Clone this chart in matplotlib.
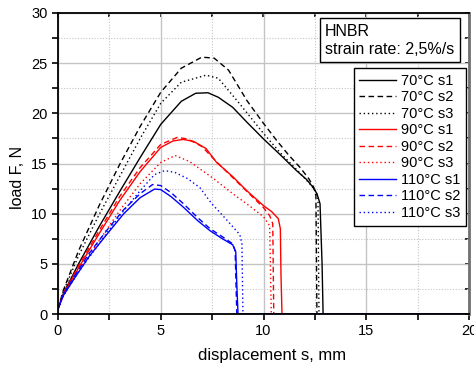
import matplotlib
matplotlib.use('Agg')
import matplotlib.pyplot as plt
from matplotlib.ticker import MultipleLocator

plt.rcParams['font.family'] = ['Liberation Sans', 'DejaVu Sans']

# --- data (displacement mm, load N) ---
x_70_s1 = [0, 0.25, 1, 2, 3, 4, 5, 6, 6.7, 7.3, 7.8, 8.5, 9.2, 10, 10.8, 11.6, 12.1, 12.4, 12.6, 12.75, 12.85, 12.9, 20]
y_70_s1 = [0.5, 2.0, 5.0, 8.7, 12.2, 15.6, 18.9, 21.2, 22.0, 22.05, 21.6, 20.6, 19.1, 17.45, 15.9, 14.3, 13.4, 12.65, 12.0, 11.0, 5.0, 0, 0]

x_70_s2 = [0, 0.25, 1, 2, 3, 4, 5, 6, 7.0, 7.6, 8.3, 9.2, 10, 10.64, 11.2, 11.78, 12.2, 12.45, 12.55, 12.6, 20]
y_70_s2 = [0.5, 2.3, 6.3, 10.8, 14.9, 18.7, 22.1, 24.5, 25.6, 25.5, 24.3, 21.25, 19.0, 17.3, 15.9, 14.6, 13.5, 12.6, 11.8, 0, 0]

x_70_s3 = [0, 0.25, 1, 2, 3, 4, 5, 6, 7.2, 7.8, 8.86, 10, 10.8, 11.7, 12.2, 12.5, 12.65, 12.7, 20]
y_70_s3 = [0.5, 2.2, 5.8, 9.9, 13.7, 17.5, 21.0, 23.1, 23.8, 23.5, 20.9, 18.0, 16.1, 14.2, 13.1, 12.4, 11.5, 0, 0]

x_90_s1 = [0, 0.25, 1, 2, 3, 4, 5, 5.6, 6.1, 6.6, 7.2, 7.72, 8.5, 9.18, 10, 10.4, 10.72, 10.82, 10.85, 10.9, 20]
y_90_s1 = [0.5, 1.9, 4.6, 8.0, 11.3, 14.2, 16.6, 17.25, 17.4, 17.2, 16.5, 15.1, 13.7, 12.3, 10.8, 10.2, 9.5, 8.5, 4.0, 0, 0]

x_90_s2 = [0, 0.25, 1, 2, 3, 4, 5, 5.8, 6.3, 7, 7.7, 8.5, 9.2, 10, 10.3, 10.45, 10.5, 20]
y_90_s2 = [0.5, 2.0, 4.8, 8.3, 11.7, 14.6, 16.9, 17.6, 17.45, 16.7, 15.2, 13.6, 12.2, 10.6, 9.8, 9.0, 0, 0]

x_90_s3 = [0, 0.25, 1, 2, 3, 4, 5, 5.7, 6.4, 7.5, 8.5, 9.3, 10.0, 10.3, 10.38, 20]
y_90_s3 = [0.5, 1.8, 4.3, 7.3, 10.3, 13.0, 15.1, 15.8, 15.2, 13.6, 12.0, 10.8, 9.7, 8.8, 0, 0]

x_110_s1 = [0, 0.25, 0.75, 1.5, 2.4, 3.2, 4.0, 4.7, 5.0, 5.5, 6.1, 6.8, 7.4, 8.0, 8.5, 8.65, 8.7, 8.76, 20]
y_110_s1 = [0.5, 1.8, 3.4, 5.7, 8.0, 10.0, 11.6, 12.45, 12.4, 11.7, 10.65, 9.3, 8.3, 7.5, 6.9, 6.2, 3.0, 0, 0]

x_110_s2 = [0, 0.25, 0.75, 1.5, 2.4, 3.2, 4.0, 4.6, 5.0, 5.5, 6.1, 6.8, 7.4, 8.0, 8.5, 8.62, 8.7, 20]
y_110_s2 = [0.5, 1.9, 3.6, 6.0, 8.4, 10.4, 12.0, 12.9, 12.8, 12.1, 11.0, 9.6, 8.5, 7.7, 7.0, 6.3, 0, 0]

x_110_s3 = [0, 0.25, 1, 2, 3, 4, 4.7, 5.2, 5.7, 6.3, 6.9, 7.48, 8.2, 8.85, 8.95, 9.0, 20]
y_110_s3 = [0.5, 1.8, 4.2, 7.0, 9.8, 12.3, 13.9, 14.3, 14.1, 13.5, 12.6, 11.0, 9.4, 7.9, 7.0, 0, 0]

series = [
    ('70°C s1', x_70_s1, y_70_s1, 'black', '-'),
    ('70°C s2', x_70_s2, y_70_s2, 'black', (0, (4, 2.5))),
    ('70°C s3', x_70_s3, y_70_s3, 'black', (0, (1, 2))),
    ('90°C s1', x_90_s1, y_90_s1, 'red', '-'),
    ('90°C s2', x_90_s2, y_90_s2, 'red', (0, (4, 2.5))),
    ('90°C s3', x_90_s3, y_90_s3, 'red', (0, (1, 2))),
    ('110°C s1', x_110_s1, y_110_s1, 'blue', '-'),
    ('110°C s2', x_110_s2, y_110_s2, 'blue', (0, (4, 2.5))),
    ('110°C s3', x_110_s3, y_110_s3, 'blue', (0, (1, 2))),
]

fig = plt.figure(figsize=(4.74, 3.66), dpi=100)
ax = fig.add_axes([58/474, 52/366, 411/474, 301/366])

for label, xs, ys, c, ls in series:
    ax.plot(xs, ys, color=c, linestyle=ls, linewidth=1.0, label=label)

ax.set_xlim(0, 20)
ax.set_ylim(0, 30)
ax.xaxis.set_major_locator(MultipleLocator(5))
ax.xaxis.set_minor_locator(MultipleLocator(2.5))
ax.yaxis.set_major_locator(MultipleLocator(5))
ax.yaxis.set_minor_locator(MultipleLocator(2.5))
ax.grid(True, which='major', color='#c4c4c4', linewidth=1.0, linestyle='-')
ax.grid(True, which='minor', color='#c4c4c4', linewidth=0.8, linestyle=(0, (1, 1.5)))
ax.set_axisbelow(True)

ax.tick_params(which='both', direction='out', length=4, width=1.2, labelsize=10.5,
               top=False, right=False)
for s in ax.spines.values():
    s.set_linewidth(1.3)
    s.set_color('black')
ax.spines['right'].set_color('#707070')
ax.spines['right'].set_linewidth(2)

# mirrored inward ticks on the top and right edges
top = ax.secondary_xaxis('top')
top.xaxis.set_major_locator(MultipleLocator(5))
top.xaxis.set_minor_locator(MultipleLocator(2.5))
top.tick_params(which='both', direction='in', length=3, width=1.2, labeltop=False)
top.spines['top'].set_visible(False)
right = ax.secondary_yaxis('right')
right.yaxis.set_major_locator(MultipleLocator(5))
right.yaxis.set_minor_locator(MultipleLocator(2.5))
right.tick_params(which='both', direction='in', length=3, width=1.2, labelright=False)
right.spines['right'].set_visible(False)

ax.set_xlabel('displacement s, mm', fontsize=12)
ax.set_ylabel('load F, N', fontsize=11.5)
ax.xaxis.set_label_coords(0.521, -0.113)
ax.yaxis.set_label_coords(-0.08, 0.455)

ax.text(0.65, 0.965, 'HNBR\nstrain rate: 2,5%/s', transform=ax.transAxes,
        ha='left', va='top', fontsize=11.5, linespacing=1.3,
        bbox=dict(boxstyle='square,pad=0.32', facecolor='white', edgecolor='black', linewidth=1))

leg = ax.legend(loc='upper right', bbox_to_anchor=(0.993, 0.817), fontsize=10.5,
                fancybox=False, framealpha=1, edgecolor='black', handlelength=2.5,
                labelspacing=0.17, borderpad=0.4, handletextpad=0.35, borderaxespad=0)
leg.get_frame().set_linewidth(1)

fig.savefig('out.png', dpi=100)
